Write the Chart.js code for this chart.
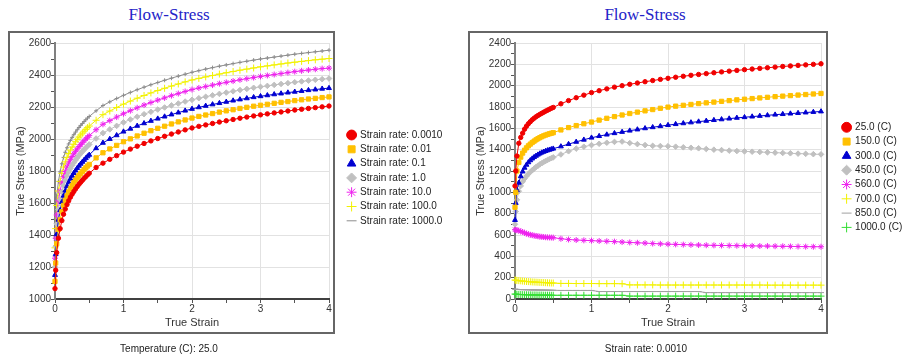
<!DOCTYPE html>
<html>
<head>
<meta charset="utf-8">
<script src="https://cdn.jsdelivr.net/npm/chart.js@4.4.1/dist/chart.umd.min.js"></script>
<style>
  body { margin: 0; background: #fff; width: 902px; height: 358px; position: relative; overflow: hidden; font-family: "Liberation Sans", Arial, sans-serif; }
  .title { position: absolute; top: 6px; font: 17px/17px "Liberation Serif", "Times New Roman", serif; color: #2323c8; transform: translateX(-50%); white-space: nowrap; }
  .wrap { position: absolute; top: 31px; height: 303px; }
  .frame { position: absolute; top: 31px; height: 303px; border: 2px solid #666; box-sizing: border-box; pointer-events: none; }
  .note { position: absolute; top: 343px; font-size: 10px; line-height: 12px; color: #222; transform: translateX(-50%); white-space: nowrap; }
</style>
</head>
<body>
<div class="title" style="left:169px">Flow-Stress</div>
<div class="title" style="left:645px">Flow-Stress</div>
<div class="wrap" style="left:8px;width:450px"><canvas id="left" width="450" height="303"></canvas></div>
<div class="wrap" style="left:468px;width:434px"><canvas id="right" width="434" height="303"></canvas></div>
<div class="frame" style="left:8px;width:327px"></div>
<div class="frame" style="left:468px;width:360px"></div>
<div class="note" style="left:169px">Temperature (C): 25.0</div>
<div class="note" style="left:646px">Strain rate: 0.0010</div>

<script>
// strain points: dense up to 0.5, then every 0.1
const strain = [0, 0.01, 0.025, 0.05, 0.075, 0.1, 0.125, 0.15, 0.175, 0.2, 0.225, 0.25, 0.275, 0.3, 0.325, 0.35, 0.375, 0.4, 0.425, 0.45, 0.475, 0.5,
  0.6, 0.7, 0.8, 0.9, 1.0, 1.1, 1.2, 1.3, 1.4, 1.5, 1.6, 1.7, 1.8, 1.9, 2.0, 2.1, 2.2, 2.3, 2.4, 2.5, 2.6, 2.7, 2.8, 2.9, 3.0,
  3.1, 3.2, 3.3, 3.4, 3.5, 3.6, 3.7, 3.8, 3.9, 4.0];

// left chart: temperature 25 C, one curve per strain rate
const rateLabels = ['Strain rate: 0.0010', 'Strain rate: 0.01', 'Strain rate: 0.1', 'Strain rate: 1.0', 'Strain rate: 10.0', 'Strain rate: 100.0', 'Strain rate: 1000.0'];
const rate0010 = [1065, 1180, 1290, 1380, 1440, 1490, 1530, 1562, 1590, 1614, 1636, 1655, 1672, 1688, 1703, 1717, 1730, 1742, 1754, 1765, 1776, 1786,
  1822, 1849, 1873, 1896, 1918, 1937, 1955, 1972, 1988, 2003, 2017, 2031, 2044, 2057, 2069, 2079, 2088, 2097, 2106, 2114, 2122, 2130, 2137, 2144, 2151,
  2157, 2163, 2169, 2175, 2181, 2186, 2191, 2196, 2201, 2206];
const rate001 = [1110, 1225, 1345, 1435, 1495, 1545, 1585, 1617, 1645, 1669, 1691, 1710, 1727, 1743, 1758, 1772, 1785, 1797, 1809, 1820, 1831, 1841,
  1882, 1914, 1938, 1960, 1983, 2001, 2019, 2036, 2052, 2067, 2080, 2094, 2107, 2119, 2131, 2141, 2150, 2159, 2168, 2176, 2183, 2191, 2198, 2205, 2211,
  2217, 2223, 2229, 2234, 2240, 2245, 2250, 2254, 2259, 2263];
const rate01 = [1150, 1280, 1405, 1495, 1555, 1605, 1645, 1677, 1705, 1729, 1751, 1770, 1787, 1803, 1818, 1832, 1845, 1857, 1869, 1880, 1891, 1901,
  1942, 1976, 2000, 2023, 2046, 2064, 2082, 2098, 2113, 2127, 2140, 2153, 2165, 2177, 2188, 2198, 2207, 2216, 2224, 2232, 2240, 2247, 2254, 2261, 2267,
  2273, 2279, 2284, 2290, 2295, 2300, 2305, 2309, 2314, 2318];
const rate1 = [1200, 1330, 1470, 1560, 1620, 1670, 1710, 1742, 1770, 1794, 1816, 1835, 1852, 1868, 1883, 1897, 1910, 1922, 1934, 1945, 1956, 1966,
  2003, 2037, 2060, 2082, 2104, 2122, 2139, 2155, 2170, 2184, 2197, 2210, 2222, 2234, 2245, 2255, 2264, 2273, 2282, 2290, 2298, 2306, 2313, 2320, 2326,
  2332, 2338, 2344, 2349, 2355, 2360, 2365, 2370, 2374, 2378];
const rate10 = [1255, 1380, 1525, 1615, 1675, 1725, 1765, 1797, 1825, 1849, 1871, 1890, 1907, 1923, 1938, 1952, 1965, 1977, 1989, 2000, 2011, 2021,
  2058, 2092, 2115, 2137, 2158, 2177, 2195, 2212, 2228, 2243, 2257, 2271, 2284, 2297, 2309, 2319, 2328, 2337, 2346, 2354, 2362, 2370, 2377, 2384, 2391,
  2397, 2403, 2409, 2415, 2421, 2426, 2431, 2436, 2440, 2443];
const rate100 = [1320, 1440, 1585, 1675, 1735, 1785, 1825, 1857, 1885, 1909, 1931, 1950, 1967, 1983, 1998, 2012, 2025, 2037, 2049, 2060, 2071, 2081,
  2117, 2152, 2175, 2197, 2218, 2237, 2255, 2272, 2288, 2303, 2317, 2331, 2344, 2357, 2369, 2379, 2388, 2397, 2406, 2414, 2422, 2430, 2437, 2444, 2451,
  2457, 2463, 2469, 2475, 2480, 2485, 2490, 2495, 2499, 2503];
const rate1000 = [1380, 1500, 1645, 1735, 1795, 1845, 1885, 1917, 1945, 1969, 1991, 2010, 2027, 2043, 2058, 2072, 2085, 2097, 2109, 2120, 2131, 2141,
  2176, 2209, 2232, 2253, 2273, 2291, 2308, 2324, 2339, 2353, 2367, 2380, 2393, 2405, 2417, 2427, 2437, 2446, 2455, 2463, 2471, 2479, 2486, 2493, 2500,
  2506, 2512, 2518, 2524, 2530, 2535, 2540, 2545, 2550, 2555];

// right chart: strain rate 0.0010, one curve per temperature
const tempLabels = ['25.0 (C)', '150.0 (C)', '300.0 (C)', '450.0 (C)', '560.0 (C)', '700.0 (C)', '850.0 (C)', '1000.0 (C)'];
const t25 = [1060, 1200, 1340, 1460, 1515, 1555, 1592, 1620, 1643, 1662, 1680, 1695, 1708, 1720, 1731, 1741, 1751, 1761, 1770, 1779, 1788, 1796,
  1830, 1860, 1887, 1911, 1935, 1953, 1970, 1986, 2000, 2013, 2025, 2037, 2048, 2059, 2069, 2079, 2088, 2097, 2105, 2113, 2121, 2129, 2136, 2143, 2150,
  2156, 2162, 2168, 2174, 2180, 2185, 2190, 2195, 2200, 2205];
const t150 = [860, 1000, 1200, 1280, 1330, 1368, 1395, 1417, 1436, 1452, 1467, 1480, 1492, 1503, 1513, 1522, 1530, 1537, 1543, 1549, 1554, 1559,
  1585, 1607, 1626, 1643, 1659, 1677, 1694, 1710, 1725, 1739, 1752, 1764, 1776, 1788, 1799, 1808, 1816, 1824, 1832, 1839, 1846, 1853, 1860, 1867, 1873,
  1879, 1885, 1891, 1897, 1902, 1907, 1912, 1917, 1922, 1927];
const t300 = [740, 900, 1020, 1090, 1150, 1195, 1230, 1258, 1281, 1300, 1316, 1330, 1342, 1353, 1363, 1372, 1380, 1387, 1393, 1399, 1404, 1409,
  1430, 1452, 1473, 1493, 1512, 1527, 1541, 1554, 1566, 1578, 1589, 1600, 1610, 1620, 1630, 1639, 1647, 1655, 1663, 1670, 1677, 1684, 1691, 1698, 1704,
  1710, 1716, 1722, 1728, 1733, 1738, 1743, 1748, 1753, 1758];
const t450 = [700, 820, 930, 1010, 1060, 1100, 1128, 1152, 1172, 1190, 1207, 1222, 1237, 1250, 1262, 1273, 1284, 1294, 1303, 1312, 1320, 1328,
  1355, 1385, 1410, 1428, 1443, 1455, 1465, 1473, 1476, 1462, 1452, 1443, 1436, 1434, 1432, 1428, 1422, 1418, 1413, 1406, 1400, 1396, 1391, 1387, 1384,
  1381, 1378, 1375, 1372, 1369, 1366, 1363, 1361, 1358, 1356];
const t560 = [650, 648, 645, 640, 635, 628, 620, 613, 607, 602, 598, 594, 591, 588, 585, 583, 581, 579, 578, 577, 576, 575,
  565, 558, 553, 550, 547, 544, 541, 538, 534, 530, 527, 524, 520, 517, 514, 512, 510, 508, 506, 504, 503, 502, 501, 500, 499,
  498, 497, 496, 495, 494, 493, 492, 491, 490, 490];
const t700 = [178, 176, 174, 172, 170, 168, 166, 164, 163, 162, 160, 159, 158, 157, 156, 155, 154, 153, 152, 151, 150, 150,
  146, 146, 145, 145, 145, 144, 144, 144, 143, 132, 132, 132, 132, 131, 131, 131, 131, 131, 131, 131, 131, 131, 131, 131, 131,
  131, 131, 130, 130, 130, 130, 130, 130, 130, 130];
const t850 = [92, 91, 90, 89, 88, 88, 87, 87, 86, 86, 85, 85, 85, 84, 84, 84, 83, 83, 83, 82, 82, 82,
  80, 80, 80, 80, 80, 70, 70, 70, 70, 70, 70, 70, 70, 70, 70, 70, 70, 70, 70, 60, 60, 60, 60, 60, 60,
  60, 60, 60, 60, 60, 60, 60, 60, 60, 60];
const t1000 = [46, 45, 44, 43, 42, 41, 40, 40, 39, 39, 38, 38, 38, 37, 37, 37, 36, 36, 36, 36, 35, 35,
  35, 35, 35, 35, 35, 35, 35, 35, 35, 27, 27, 27, 27, 27, 27, 27, 27, 27, 27, 27, 27, 27, 27, 27, 27,
  27, 27, 27, 27, 27, 27, 27, 27, 27, 27];

const strainTicks = [0, 1, 2, 3, 4];
const leftStressTicks = [1000, 1200, 1400, 1600, 1800, 2000, 2200, 2400, 2600];
const rightStressTicks = [0, 200, 400, 600, 800, 1000, 1200, 1400, 1600, 1800, 2000, 2200, 2400];

const markers = [
  { color: '#f00000', style: 'circle', r: 2.2, legend: 'circle' },
  { color: '#ffc000', style: 'rect', r: 3, legend: 'rect' },
  { color: '#0000d0', style: 'triangle', r: 2.8, legend: 'triangle' },
  { color: '#c0c0c0', style: 'rectRot', r: 2.8, legend: 'rectRot' },
  { color: '#ee22ee', style: 'star', r: 3, legend: 'star' },
  { color: '#f2f200', style: 'cross', r: 3.5, legend: 'cross' }
];
const leftLast = { color: '#8c8c8c', style: 'cross', r: 2, legend: 'line' };
const rightExtra = [
  { color: '#a0a0a0', style: 'line', r: 3, legend: 'line' },
  { color: '#33dd33', style: 'cross', r: 3.5, legend: 'cross' }
];

// legend sits outside the framed plot, so give it a fixed width and spot
const legendSpot = {
  id: 'legendSpot',
  afterInit(chart, args, opts) {
    const lg = chart.legend;
    const fit = lg.fit;
    lg.fit = function () { fit.call(this); this.width = opts.width; };
  },
  afterLayout(chart, args, opts) {
    chart.legend.left = opts.left;
    chart.legend.top = opts.top;
  }
};

const near = (a, b) => Math.abs(a - b) < 1e-6;

function makeChart(id, labels, seriesList, styles, stressTicks, yMax, spot) {
  const datasets = seriesList.map((vals, i) => ({
    label: labels[i],
    data: vals.map((v, j) => ({ x: strain[j], y: v })),
    borderColor: styles[i].color,
    backgroundColor: styles[i].color,
    pointBackgroundColor: styles[i].color,
    pointBorderColor: styles[i].color,
    borderWidth: 1,
    pointBorderWidth: 1,
    pointStyle: styles[i].style,
    pointRadius: styles[i].r,
    pointHoverRadius: styles[i].r,
    tension: 0,
    clip: false
  }));

  return new Chart(document.getElementById(id), {
    type: 'line',
    data: { datasets },
    plugins: [legendSpot],
    options: {
      responsive: false,
      animation: false,
      devicePixelRatio: 1,
      events: [],
      layout: { padding: { top: 12, right: 0, bottom: 0, left: 0 } },
      plugins: {
        legendSpot: spot,
        tooltip: { enabled: false },
        legend: {
          position: 'right',
          align: 'start',
          labels: {
            usePointStyle: true,
            boxWidth: 7,
            boxHeight: 7,
            padding: 4.3,
            color: '#222',
            font: { family: '"Liberation Sans", Arial, sans-serif', size: 10 },
            generateLabels(chart) {
              const items = Chart.defaults.plugins.legend.labels.generateLabels(chart);
              items.forEach((it, i) => { it.pointStyle = styles[i].legend; it.rotation = 0; });
              return items;
            }
          }
        }
      },
      scales: {
        x: {
          type: 'linear',
          min: 0,
          max: 4,
          afterFit(s) { s.height = 35; },
          ticks: {
            stepSize: 0.5,
            autoSkip: false,
            maxRotation: 0,
            padding: 0,
            color: '#333',
            font: { family: '"Liberation Sans", Arial, sans-serif', size: 10 },
            callback: v => strainTicks.some(t => near(t, v)) ? String(v) : ''
          },
          grid: {
            color: c => c.tick && strainTicks.some(t => near(t, c.tick.value)) ? '#e2e2e2' : 'rgba(0,0,0,0)',
            tickColor: '#555',
            tickLength: 4,
            lineWidth: 1
          },
          border: { color: '#404040', width: 2 },
          title: {
            display: true,
            text: 'True Strain',
            color: '#333',
            padding: { top: 0, bottom: 4 },
            font: { family: '"Liberation Sans", Arial, sans-serif', size: 11 }
          }
        },
        y: {
          min: stressTicks[0],
          max: yMax,
          afterFit(s) { s.width = 47; },
          ticks: {
            stepSize: 100,
            autoSkip: false,
            padding: 0,
            color: '#333',
            font: { family: '"Liberation Sans", Arial, sans-serif', size: 10 },
            callback: v => stressTicks.includes(v) ? String(v) : ''
          },
          grid: {
            color: c => c.tick && stressTicks.includes(c.tick.value) ? '#e2e2e2' : 'rgba(0,0,0,0)',
            tickColor: '#555',
            tickLength: 4,
            lineWidth: 1
          },
          border: { color: '#808080', width: 2 },
          title: {
            display: true,
            text: 'True Stress (MPa)',
            color: '#333',
            padding: { top: 6, bottom: 0 },
            font: { family: '"Liberation Sans", Arial, sans-serif', size: 11 }
          }
        }
      }
    }
  });
}

makeChart('left', rateLabels,
  [rate0010, rate001, rate01, rate1, rate10, rate100, rate1000],
  markers.concat([leftLast]),
  leftStressTicks, 2600,
  { width: 129, left: 335.8, top: 94.7 });

makeChart('right', tempLabels,
  [t25, t150, t300, t450, t560, t700, t850, t1000],
  markers.concat(rightExtra),
  rightStressTicks, 2400,
  { width: 81, left: 370.8, top: 87 });
</script>
</body>
</html>
